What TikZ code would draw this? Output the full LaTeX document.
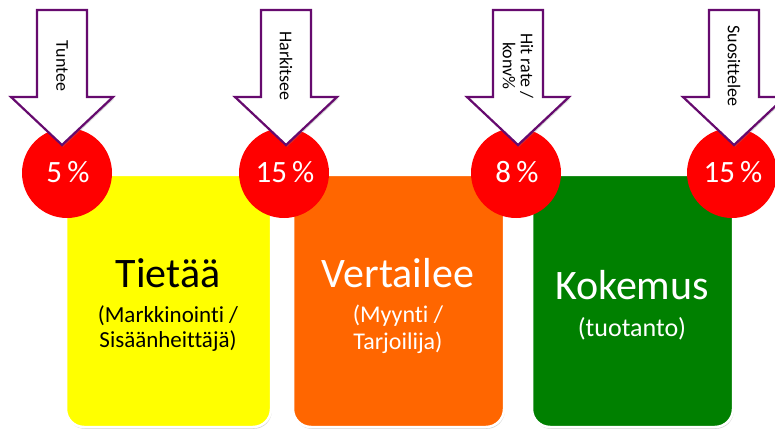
\documentclass[tikz,border=0pt]{standalone}
\usepackage{fontspec}
\setmainfont{Carlito}[Ligatures=NoCommon]
\usetikzlibrary{shadows}
\definecolor{cYel}{HTML}{FFFF00}
\definecolor{cOra}{HTML}{FF6600}
\definecolor{cGre}{HTML}{008000}
\definecolor{cRed}{HTML}{FF0000}
\definecolor{cPur}{HTML}{660A6E}
\tikzset{
  boxshape/.style={draw=white, line width=2.5pt, drop shadow={opacity=0.35, shadow xshift=0.8pt, shadow yshift=-1.8pt}},
  pct/.style={circle, fill=cRed, minimum size=90pt, inner sep=0pt},
  pcttxt/.style={anchor=base, text=white, inner sep=0pt, font=\fontsize{31}{32}\selectfont},
  arrowshape/.style={draw=cPur, fill=white, line width=2.2pt, line join=miter, drop shadow={opacity=0.3, shadow xshift=1.2pt, shadow yshift=-1.8pt}},
  arrtext/.style={rotate=-90, align=center, font=\fontsize{18}{18}\selectfont, inner sep=0pt},
  bigtxt/.style={anchor=base, font=\fontsize{42}{44}\selectfont, inner sep=0pt},
  subtxt/.style={anchor=base, font=\fontsize{24}{26}\selectfont, inner sep=0pt}
}
\newcommand{\stagebox}[3]{% x1, x2, colour
  \path[boxshape, fill=#3] (#1,175) -- (#1,300) [rounded corners=18pt] -- (#1,427) -- (#2,427) -- (#2,300) [sharp corners] -- (#2,175) -- cycle;
}
\newcommand{\blockarrow}[1]{% centre x
  \path[arrowshape] (#1-25,10) -- (#1+25,10) -- (#1+25,97) -- (#1+51,97) -- (#1,145) -- (#1-51,97) -- (#1-25,97) -- cycle;
}
\begin{document}
\begin{tikzpicture}[x=1pt,y=-1pt]
\useasboundingbox (0,0) rectangle (775,430);
% boxes
\stagebox{66}{271}{cYel}
\stagebox{293}{504}{cOra}
\stagebox{532}{733}{cGre}
\node[bigtxt] (t1) at (168,287) {Tietää};
\node[subtxt, font=\fontsize{23}{25}\selectfont] (s1a) at (168,322) {(Markkinointi /};
\node[subtxt, font=\fontsize{23}{25}\selectfont] (s1b) at (168,347) {Sisäänheittäjä)};
\node[bigtxt, text=white] (t2) at (398,287) {Vertailee};
\node[subtxt, text=white] (s2a) at (398,322) {(Myynti /};
\node[subtxt, text=white] (s2b) at (398,349) {Tarjoilija)};
\node[bigtxt, text=white] (t3) at (632,299) {Kokemus};
\node[subtxt, text=white, font=\fontsize{26}{28}\selectfont] (s3) at (632,336) {(tuotanto)};
% circles
\node[pct] (c1) at (67,173) {};
\node[pct] (c2) at (284,173) {};
\node[pct] (c3) at (516,173) {};
\node[pct] (c4) at (732,173) {};
\node[pcttxt] (p1) at (68,183) {5\,\%};
\node[pcttxt] (p2) at (285,183) {15\,\%};
\node[pcttxt] (p3) at (517,183) {8\,\%};
\node[pcttxt] (p4) at (733,183) {15\,\%};
% arrows
\blockarrow{62}
\blockarrow{286}
\blockarrow{518}
\blockarrow{734}
\node[arrtext] (a1) at (62,66) {Tuntee};
\node[arrtext] (a2) at (286,66) {Harkitsee};
\node[arrtext] (a3) at (518,66) {Hit rate /\\konv\%};
\node[arrtext] (a4) at (734,66) {Suosittelee};
\end{tikzpicture}
\end{document}
